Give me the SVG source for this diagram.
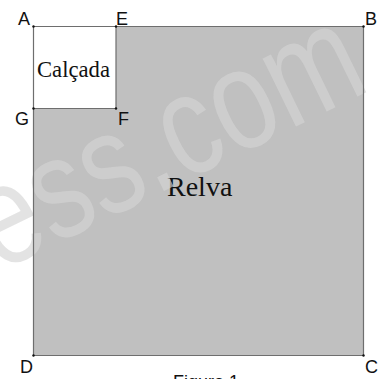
<svg xmlns="http://www.w3.org/2000/svg" width="384" height="379" viewBox="0 0 384 379">
<style>
.lbl{font-family:"Liberation Sans",Arial,sans-serif;font-size:18px;fill:#111}
.ser{font-family:"Liberation Serif","Times New Roman",serif;fill:#111}
.edge{stroke:#6e6e6e;stroke-width:1.2;fill:none}
.dot{fill:#111}
</style>
<rect width="384" height="379" fill="#fff"/>
<g id="relva">
<rect x="33.5" y="26.5" width="330" height="329" fill="#c0c0c0"/>
<text class="ser" x="167" y="196" font-size="28">Relva</text>
</g>
<g id="calcada">
<rect x="33.5" y="26.5" width="82.5" height="82" fill="#fff"/>
<text class="ser" x="37" y="77" font-size="23" textLength="73" lengthAdjust="spacingAndGlyphs">Calçada</text>
</g>
<g id="watermark">
<text transform="translate(-2 272) rotate(-26) scale(1 1.28)" x="0" y="0" font-family="'Liberation Sans',Arial,sans-serif" font-size="112" fill="#d4d4d4" fill-opacity="0.65">ess.com</text>
</g>
<g id="connectors">
<path class="edge" d="M33.5 26.5H363.5V355.5H33.5Z"/>
<path class="edge" d="M116 26.5V108.5H33.5"/>
</g>
<g id="points">
<circle class="dot" cx="33.5" cy="26.5" r="1.2"/>
<circle class="dot" cx="116" cy="26.5" r="1.2"/>
<circle class="dot" cx="363.5" cy="26.5" r="1.2"/>
<circle class="dot" cx="33.5" cy="108.5" r="1.2"/>
<circle class="dot" cx="116" cy="108.5" r="1.2"/>
<circle class="dot" cx="33.5" cy="355.5" r="1.2"/>
<circle class="dot" cx="363.5" cy="355.5" r="1.2"/>
<text class="lbl" x="18" y="25">A</text>
<text class="lbl" x="116" y="25">E</text>
<text class="lbl" x="365" y="25">B</text>
<text class="lbl" x="15" y="125">G</text>
<text class="lbl" x="118" y="125">F</text>
<text class="lbl" x="20" y="373">D</text>
<text class="lbl" x="365" y="373">C</text>
</g>
<text class="lbl" x="173" y="388">Figura 1</text>
</svg>
